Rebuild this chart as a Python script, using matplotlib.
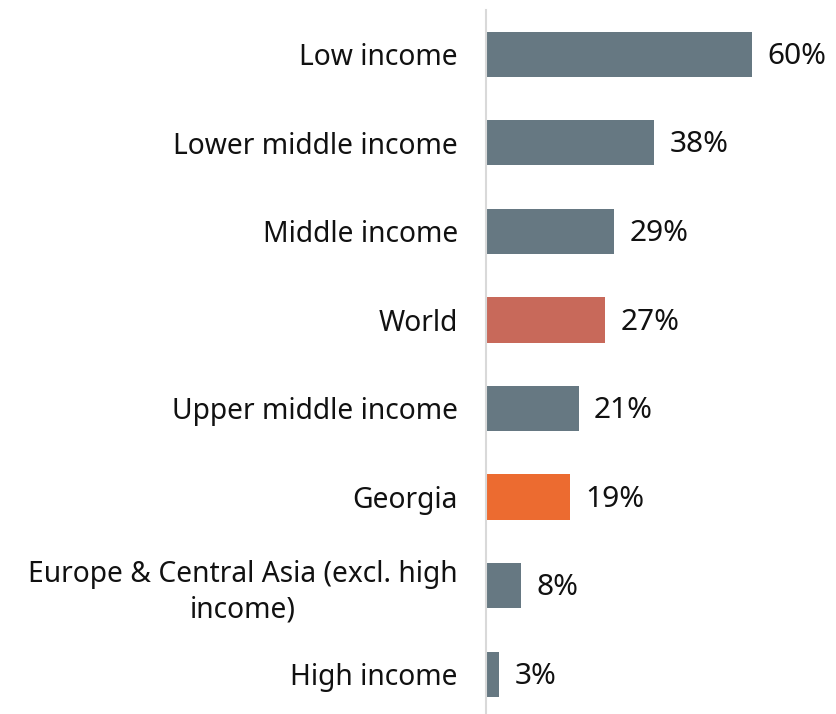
import matplotlib.pyplot as plt

categories = ["Low income", "Lower middle income", "Middle income", "World",
              "Upper middle income", "Georgia",
              "Europe & Central Asia (excl. high\nincome)", "High income"]
values = [60, 38, 29, 27, 21, 19, 8, 3]
colors = ["#667882", "#667882", "#667882", "#C8695A",
          "#667882", "#EC6B30", "#667882", "#667882"]

plt.rcParams["font.family"] = ["Noto Sans", "DejaVu Sans"]

fig = plt.figure(figsize=(8.36, 7.14), dpi=100)
ax = fig.add_axes([0.581, 0.0, 0.419, 0.986])

pos = list(range(len(categories)))
ax.barh(pos, values, height=0.51, color=colors)

for p, v in zip(pos, values):
    ax.annotate(f"{v}%", (v, p), xytext=(11, -1.5), textcoords="offset points",
                va="center", ha="left", fontsize=21.5, fontweight="medium",
                color="#111111")

ax.set_yticks(pos)
ax.set_yticklabels(categories, fontsize=20.3, fontweight="medium",
                   color="#111111", linespacing=1.3)
for lbl in ax.get_yticklabels():
    lbl.set_horizontalalignment("right")
    lbl.set_multialignment("center")
ax.tick_params(axis="y", length=0, pad=20)
ax.set_ylim(7.45, -0.5)
ax.set_xlim(0, 79)
ax.set_xticks([])
for s in ["top", "right", "bottom"]:
    ax.spines[s].set_visible(False)
ax.spines["left"].set_color("#d9d9d9")
ax.spines["left"].set_linewidth(1.5)

fig.savefig("out.png", dpi=100)
